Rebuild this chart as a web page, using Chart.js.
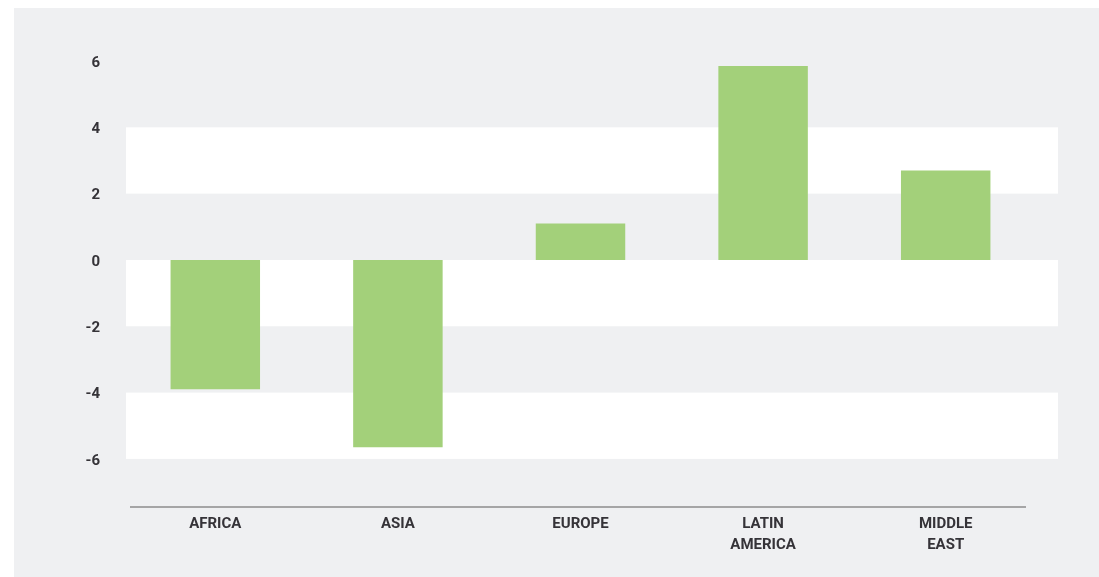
<!DOCTYPE html>
<html>
<head>
<meta charset="utf-8">
<script src="https://cdn.jsdelivr.net/npm/chart.js@4/dist/chart.umd.min.js"></script>
<style>
  html, body { margin: 0; padding: 0; background: #ffffff; }
  #wrap { position: relative; width: 1099px; height: 577px; overflow: hidden; }
  #panel { position: absolute; left: 14px; top: 8px; right: 0; bottom: 0; background: #eff0f2; }
  #box { position: absolute; left: 0; top: 0; width: 1099px; height: 577px; }
</style>
</head>
<body>
<div id="wrap">
  <div id="panel"></div>
  <div id="box"><canvas id="chart"></canvas></div>
</div>
<script>
// Regional change, by region
const categories = [['AFRICA'], ['ASIA'], ['EUROPE'], ['LATIN', 'AMERICA'], ['MIDDLE', 'EAST']];
const values = [-3.9, -5.65, 1.1, 5.85, 2.7];
const yTickValues = [-6, -4, -2, 0, 2, 4, 6];
// Alternating white stripes behind the bars, as [from, to] value pairs
const whiteBands = [[2, 4], [-2, 0], [-6, -4]];

const textColor = '#353338';
const labelFont = { family: 'Roboto', weight: 'bold', size: 15, lineHeight: 1.4 };

const framePlugin = {
  id: 'frame',
  beforeDatasetsDraw(chart) {
    const { ctx, chartArea, scales } = chart;
    const y = scales.y;
    ctx.save();
    ctx.fillStyle = '#ffffff';
    const left = chartArea.left + 2;
    const right = chartArea.right + 21;
    whiteBands.forEach(([a, b]) => {
      const top = y.getPixelForValue(b);
      const bottom = y.getPixelForValue(a);
      ctx.fillRect(left, top, right - left, bottom - top);
    });
    ctx.restore();
  },
  afterDraw(chart) {
    // baseline under the category labels, slightly inset from the plot edges
    const { ctx, chartArea } = chart;
    ctx.save();
    ctx.strokeStyle = '#8c8c8c';
    ctx.lineWidth = 1.5;
    ctx.beginPath();
    ctx.moveTo(chartArea.left + 6, chartArea.bottom);
    ctx.lineTo(chartArea.right - 11, chartArea.bottom);
    ctx.stroke();
    ctx.restore();
  }
};

new Chart(document.getElementById('chart'), {
  type: 'bar',
  data: {
    labels: categories,
    datasets: [{
      data: values,
      backgroundColor: '#a3d07a',
      borderWidth: 0,
      categoryPercentage: 1,
      barPercentage: 0.49
    }]
  },
  options: {
    responsive: true,
    maintainAspectRatio: false,
    animation: false,
    layout: { padding: { left: 0, right: 62, top: 61, bottom: 0 } },
    plugins: {
      legend: { display: false },
      tooltip: { enabled: false }
    },
    scales: {
      x: {
        grid: { display: false, drawTicks: false },
        border: { display: false },
        ticks: {
          color: textColor,
          font: labelFont,
          padding: 7,
          maxRotation: 0,
          autoSkip: false
        },
        afterFit(scale) { scale.height = 70; }
      },
      y: {
        min: -7.45,
        max: 6,
        grid: { display: false, drawTicks: false },
        border: { display: false },
        ticks: {
          color: textColor,
          font: labelFont,
          padding: 24,
          labelOffset: 2
        },
        afterBuildTicks(scale) {
          scale.ticks = yTickValues.map(v => ({ value: v }));
        },
        afterFit(scale) { scale.width = 124; }
      }
    }
  },
  plugins: [framePlugin]
});
</script>
</body>
</html>
